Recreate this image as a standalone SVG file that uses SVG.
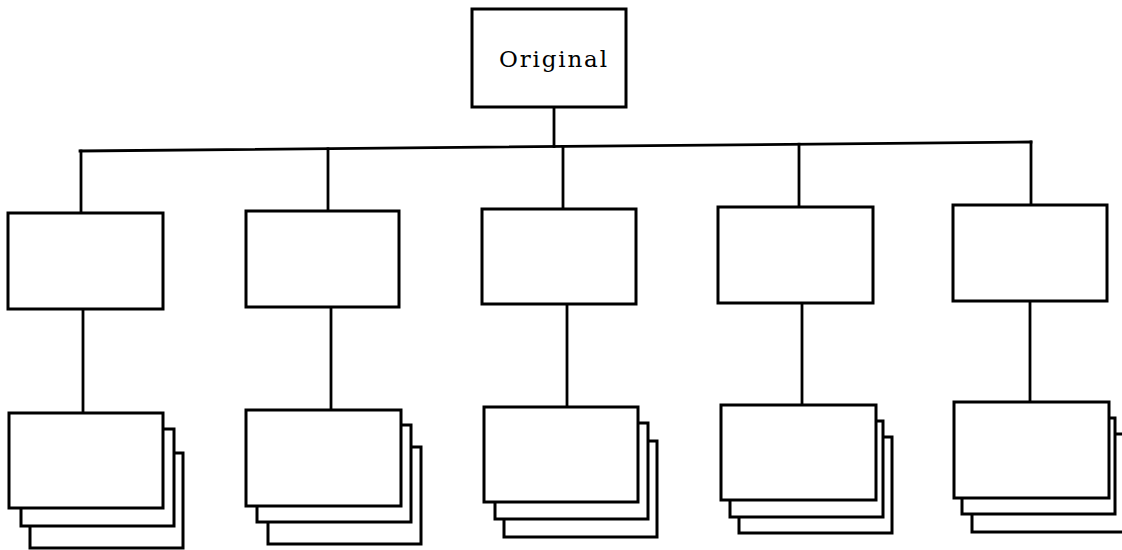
<svg xmlns="http://www.w3.org/2000/svg" width="1122" height="550" viewBox="0 0 1122 550">
<style>
.box{fill:#fff;stroke:#000;stroke-width:3;stroke-linejoin:miter}
.ln{fill:none;stroke:#000;stroke-width:2.8;stroke-linecap:square}
.lbl{font-family:"DejaVu Serif","Liberation Serif",serif;font-size:23px;fill:#000}
</style>
<rect width="1122" height="550" fill="#fff"/>
<g id="connectors">
<line class="ln" x1="80" y1="151" x2="1031" y2="142"/>
<line class="ln" x1="554" y1="107" x2="554" y2="146.5"/>
<line class="ln" x1="81" y1="151" x2="81" y2="213"/>
<line class="ln" x1="328" y1="148.7" x2="328" y2="211"/>
<line class="ln" x1="563" y1="146.4" x2="563" y2="209"/>
<line class="ln" x1="799" y1="144.2" x2="799" y2="207"/>
<line class="ln" x1="1031" y1="142" x2="1031" y2="205"/>
<line class="ln" x1="83" y1="309" x2="83" y2="413"/>
<line class="ln" x1="331" y1="307" x2="331" y2="410"/>
<line class="ln" x1="567" y1="304" x2="567" y2="407"/>
<line class="ln" x1="802" y1="303" x2="802" y2="405"/>
<line class="ln" x1="1030" y1="301" x2="1030" y2="402"/>
</g>
<g id="original">
<rect class="box" x="472" y="9" width="154" height="98"/>
<text class="lbl" x="499" y="67" textLength="108" lengthAdjust="spacing">Original</text>
</g>
<g id="node1"><rect class="box" x="8" y="213" width="155" height="96"/></g>
<g id="node2"><rect class="box" x="246" y="211" width="153" height="96"/></g>
<g id="node3"><rect class="box" x="482" y="209" width="154" height="95"/></g>
<g id="node4"><rect class="box" x="718" y="207" width="155" height="96"/></g>
<g id="node5"><rect class="box" x="953" y="205" width="154" height="96"/></g>
<g id="stack1">
<rect class="box" x="30" y="453" width="153" height="95"/>
<rect class="box" x="21" y="429" width="153" height="97"/>
<rect class="box" x="9" y="413" width="154" height="95"/>
</g>
<g id="stack2">
<rect class="box" x="268" y="447" width="153" height="97"/>
<rect class="box" x="257" y="425" width="154" height="97"/>
<rect class="box" x="246" y="410" width="155" height="96"/>
</g>
<g id="stack3">
<rect class="box" x="504" y="441" width="153" height="96"/>
<rect class="box" x="495" y="423" width="153" height="96"/>
<rect class="box" x="484" y="407" width="154" height="95"/>
</g>
<g id="stack4">
<rect class="box" x="739" y="437" width="153" height="96"/>
<rect class="box" x="730" y="421" width="153" height="96"/>
<rect class="box" x="721" y="405" width="155" height="95"/>
</g>
<g id="stack5">
<rect class="box" x="972" y="434" width="153" height="98"/>
<rect class="box" x="962" y="418" width="153" height="96"/>
<rect class="box" x="954" y="402" width="155" height="96"/>
</g>
</svg>
